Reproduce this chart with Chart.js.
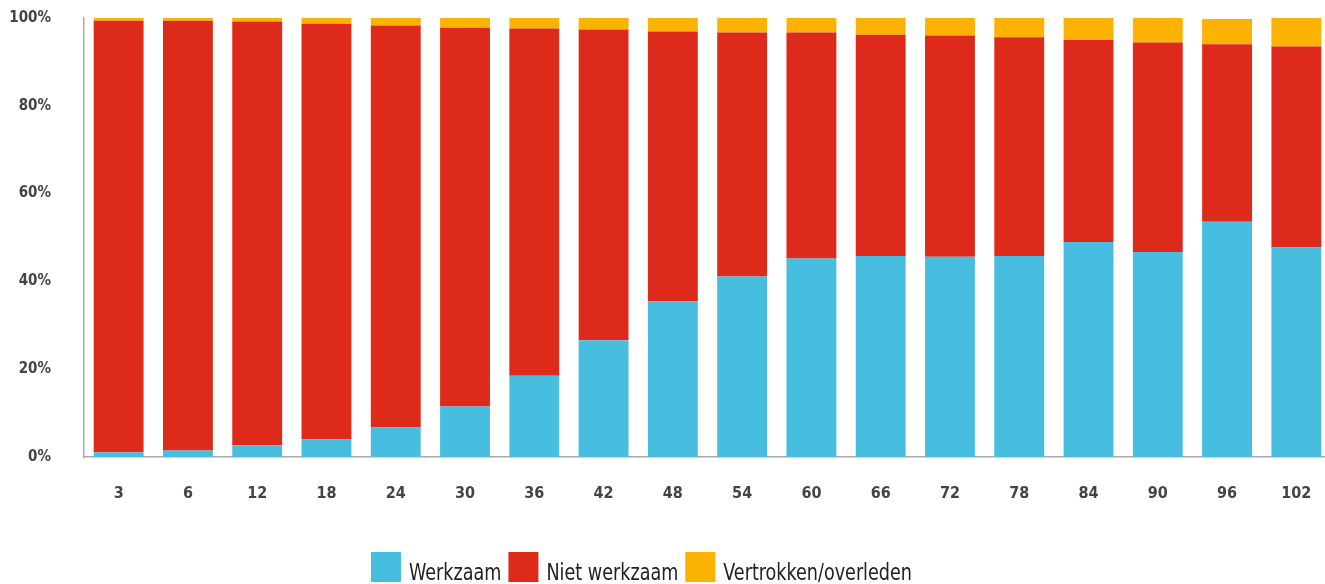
<!DOCTYPE html>
<html>
<head>
<meta charset="utf-8">
<script src="https://cdn.jsdelivr.net/npm/chart.js@4/dist/chart.umd.min.js"></script>
<style>
  html, body { margin: 0; padding: 0; background: #fff; overflow: hidden; }
  #wrap { width: 1331px; height: 592px; }
</style>
</head>
<body>
<div id="wrap"><canvas id="chart"></canvas></div>
<script>
// months since start
const categories = ["3", "6", "12", "18", "24", "30", "36", "42", "48", "54", "60", "66", "72", "78", "84", "90", "96", "102"];
const werkzaam = [1.1, 1.5, 2.7, 4.0, 6.7, 11.5, 18.5, 26.6, 35.4, 41.1, 45.2, 45.8, 45.6, 45.8, 49.0, 46.7, 53.6, 47.7];
const nietWerkzaam = [98.3, 97.9, 96.5, 94.7, 91.6, 86.3, 79.1, 70.8, 61.5, 55.6, 51.5, 50.4, 50.4, 49.8, 46.0, 47.7, 40.4, 45.8];
const vertrokken = [0.6, 0.6, 0.8, 1.3, 1.7, 2.2, 2.4, 2.6, 3.1, 3.3, 3.3, 3.8, 4.0, 4.4, 5.0, 5.6, 5.8, 6.5];
const yTicks = [0, 20, 40, 60, 80, 100];

function hasFont(name) {
  const c = document.createElement("canvas").getContext("2d");
  c.font = "40px monospace";
  const a = c.measureText("Werkzaam 102%").width;
  c.font = '40px "' + name + '", monospace';
  return c.measureText("Werkzaam 102%").width !== a;
}
const narrow = hasFont("Liberation Sans Narrow");
const FAMILY = narrow ? '"Liberation Sans Narrow"' : '"DejaVu Sans Condensed"';
const tickSize = narrow ? 18 : 15;
const legendSize = narrow ? 26 : 23;
const legendSqueeze = narrow ? 1 : 0.85; // original legend font is very condensed

// legend drawn below the plot, centred like the original
const bottomLegend = {
  id: "bottomLegend",
  afterDraw(chart) {
    const ctx = chart.ctx;
    const box = 30, gapText = 8, gapItem = 7;
    ctx.save();
    ctx.font = legendSize + "px " + FAMILY;
    const items = chart.data.datasets.map(ds => ({
      text: ds.label, color: ds.backgroundColor, w: ctx.measureText(ds.label).width * legendSqueeze
    }));
    let total = 0;
    items.forEach((it, i) => { total += box + gapText + it.w + (i ? gapItem : 0); });
    let x = 641.5 - total / 2;
    const y = 552;
    ctx.textBaseline = "alphabetic";
    items.forEach(it => {
      ctx.fillStyle = it.color;
      ctx.fillRect(x, y, box, box);
      x += box + gapText;
      ctx.save();
      ctx.translate(x, 580);
      ctx.scale(legendSqueeze, 1);
      ctx.fillStyle = "#222";
      ctx.fillText(it.text, 0, 0);
      ctx.restore();
      x += it.w + gapItem;
    });
    ctx.restore();
  }
};

new Chart(document.getElementById("chart"), {
  type: "bar",
  data: {
    labels: categories,
    datasets: [
      { label: "Werkzaam", data: werkzaam, backgroundColor: "#47bedf" },
      { label: "Niet werkzaam", data: nietWerkzaam, backgroundColor: "#de2a1a" },
      { label: "Vertrokken/overleden", data: vertrokken, backgroundColor: "#fcb200" }
    ]
  },
  options: {
    responsive: true,
    maintainAspectRatio: false,
    animation: false,
    categoryPercentage: 1,
    barPercentage: 0.72,
    layout: { padding: { top: 18, left: 0, right: 0, bottom: 75 } },
    plugins: {
      legend: { display: false },
      tooltip: { callbacks: { label: c => c.dataset.label + ": " + c.parsed.y + "%" } }
    },
    scales: {
      x: {
        stacked: true,
        grid: { display: false, drawTicks: false },
        border: { display: true, color: "#aaa", width: 1.5 },
        ticks: {
          color: "#444",
          padding: 27,
          maxRotation: 0,
          autoSkip: false,
          font: { family: FAMILY, size: tickSize + 1, weight: "bold" }
        },
        afterFit: s => { s.height = 60; s.paddingLeft = 0; s.paddingRight = 0; }
      },
      y: {
        stacked: true,
        min: 0,
        max: 100,
        grid: { display: false, drawTicks: false },
        border: { display: true, color: "#aaa", width: 1.5 },
        afterBuildTicks: s => { s.ticks = yTicks.map(v => ({ value: v })); },
        ticks: {
          color: "#444",
          padding: 33,
          callback: v => v + "%",
          font: { family: FAMILY, size: tickSize, weight: "bold" }
        },
        afterFit: s => { s.width = 84; s.paddingTop = 0; s.paddingBottom = 0; }
      }
    }
  },
  plugins: [bottomLegend]
});
</script>
</body>
</html>
